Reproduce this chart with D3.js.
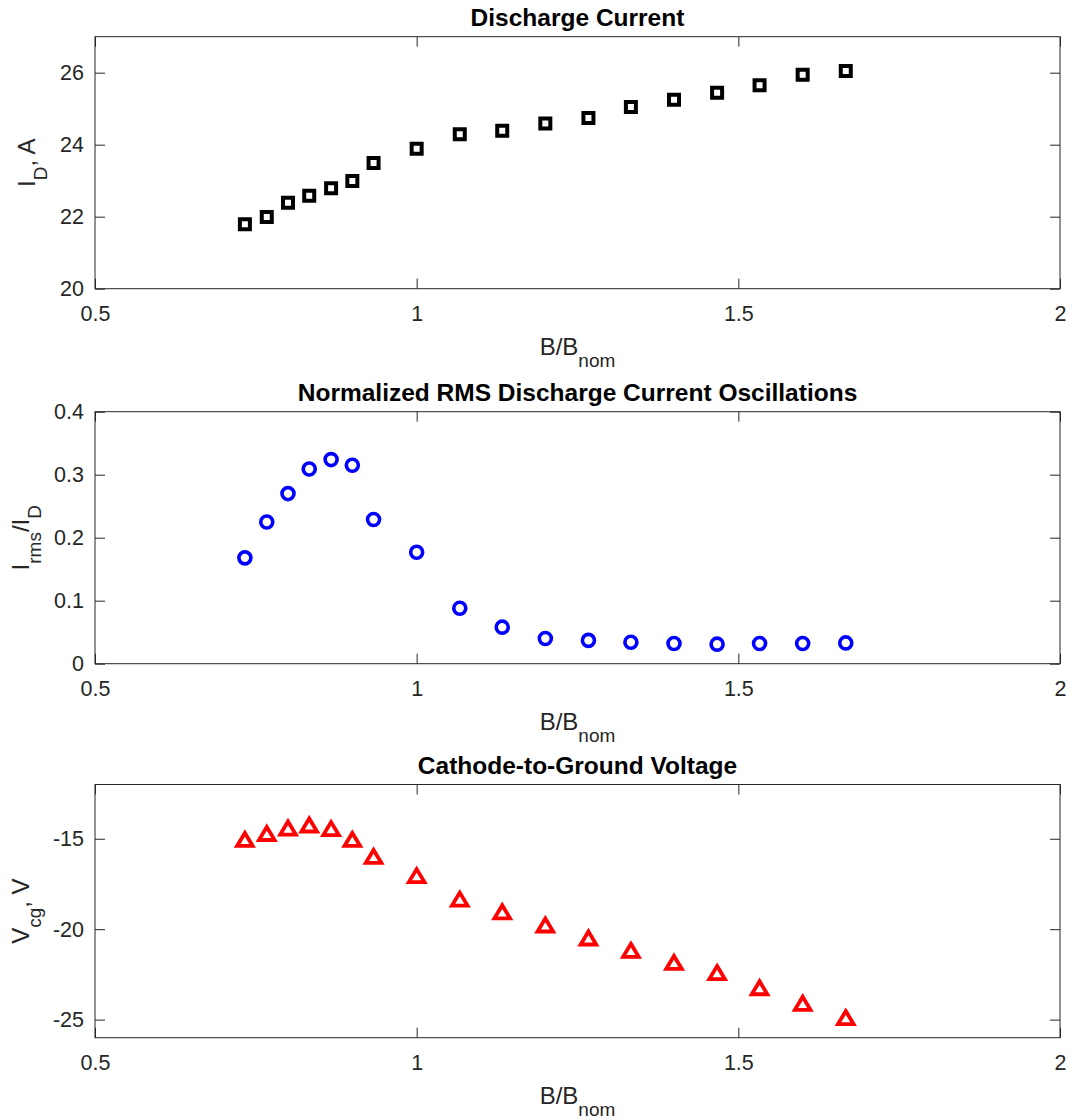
<!DOCTYPE html>
<html><head><meta charset="utf-8">
<script src="https://cdn.jsdelivr.net/npm/d3@7"></script>
<style>
body{margin:0;background:#fff}
svg{display:block}
text{font-family:"Liberation Sans",Arial,Helvetica,sans-serif}
</style>
</head><body><svg id="chart" width="1073" height="1120"></svg>
<script>
// ---- data ----
const bRatio = [0.733,0.767,0.8,0.833,0.867,0.9,0.933,1.0,1.067,1.133,1.2,1.267,1.333,1.4,1.467,1.533,1.6,1.667];
const dischargeCurrent = [21.79,21.99,22.39,22.58,22.79,22.99,23.49,23.89,24.29,24.39,24.59,24.74,25.05,25.25,25.44,25.65,25.94,26.05];
const rmsOscillation = [0.168,0.225,0.270,0.309,0.324,0.315,0.229,0.177,0.088,0.058,0.040,0.037,0.034,0.032,0.031,0.032,0.032,0.033];
const cathodeVoltage = [-15.0,-14.67,-14.37,-14.2,-14.4,-15.0,-15.94,-17.0,-18.3,-19.0,-19.73,-20.45,-21.13,-21.8,-22.36,-23.2,-24.06,-24.85];
const xTicks = [0.5,1,1.5,2];
const yTicksCurrent = [20,22,24,26];
const yTicksRms = [0,0.1,0.2,0.3,0.4];
const yTicksVoltage = [-25,-20,-15];
const titles = ["Discharge Current","Normalized RMS Discharge Current Oscillations","Cathode-to-Ground Voltage"];

// ---- layout ----
const svg = d3.select("#chart");
const left = 95, right = 1060;
const axisColor = "#262626";
const x = d3.scaleLinear().domain([0.5, 2]).range([left, right]);

const panels = [
  {title: titles[0], values: dischargeCurrent, domain: [20, 27], ticks: yTicksCurrent,
   top: 36.7, bottom: 288.7, color: "#000000", marker: "square", labelX: 35,
   label: [["I",0],["D",1],[", A",0]]},
  {title: titles[1], values: rmsOscillation, domain: [0, 0.4], ticks: yTicksRms,
   top: 411.7, bottom: 663.7, color: "#0000ff", marker: "circle", labelX: 28.5,
   label: [["I",0],["rms",1],["/I",0],["D",1]]},
  {title: titles[2], values: cathodeVoltage, domain: [-26, -12], ticks: yTicksVoltage,
   top: 784.5, bottom: 1037.7, color: "#ff0000", marker: "triangle", labelX: 28.5,
   label: [["V",0],["cg",1],[", V",0]]}
];

panels.forEach(p => {
  const y = d3.scaleLinear().domain(p.domain).range([p.bottom, p.top]);
  const g = svg.append("g");

  // axes with inward ticks
  const xb = g.append("g").attr("transform", `translate(0,${p.bottom})`)
    .call(d3.axisBottom(x).tickValues(xTicks).tickSizeInner(-10).tickSizeOuter(0)
      .tickPadding(17.5).tickFormat(d => String(d)));
  const xt = g.append("g").attr("transform", `translate(0,${p.top})`)
    .call(d3.axisTop(x).tickValues(xTicks).tickSizeInner(-10).tickSizeOuter(0).tickFormat(""));
  const yl = g.append("g").attr("transform", `translate(${left},0)`)
    .call(d3.axisLeft(y).tickValues(p.ticks).tickSizeInner(-10).tickSizeOuter(0)
      .tickPadding(11).tickFormat(d => String(d)));
  const yr = g.append("g").attr("transform", `translate(${right},0)`)
    .call(d3.axisRight(y).tickValues(p.ticks).tickSizeInner(-10).tickSizeOuter(0).tickFormat(""));
  [xb, xt, yl, yr].forEach(a => {
    a.select(".domain").remove();
    a.selectAll(".tick line").attr("stroke", axisColor).attr("stroke-width", 1);
    a.selectAll(".tick text").attr("fill", axisColor)
      .style("font-size", "21.5px").style("font-family", '"Liberation Sans",Arial,sans-serif');
  });

  // frame
  g.append("rect").attr("x", left).attr("y", p.top)
    .attr("width", right - left).attr("height", p.bottom - p.top)
    .attr("fill", "none").attr("stroke", axisColor).attr("stroke-width", 1);

  // title
  g.append("text").attr("x", (left + right) / 2).attr("y", p.top - 10.5)
    .attr("text-anchor", "middle").attr("font-weight", "bold")
    .attr("font-size", 24.5).attr("fill", "#000").text(p.title);

  // x label
  const xlab = g.append("text").attr("x", (left + right) / 2).attr("y", p.bottom + 66.5)
    .attr("text-anchor", "middle").attr("fill", axisColor).attr("font-size", 24);
  xlab.append("tspan").text("B/B");
  xlab.append("tspan").attr("font-size", 19).attr("dy", 12).text("nom");

  // y label
  const ylab = g.append("text")
    .attr("transform", `translate(${p.labelX},${(p.top + p.bottom) / 2}) rotate(-90)`)
    .attr("text-anchor", "middle").attr("fill", axisColor).attr("font-size", 24);
  let state = 0;
  p.label.forEach(([t, sub]) => {
    const ts = ylab.append("tspan").text(t);
    if (sub) ts.attr("font-size", 19);
    if (sub !== state) ts.attr("dy", sub ? 12 : -12);
    state = sub;
  });

  // markers
  const pts = bRatio.map((b, i) => ({b, v: p.values[i]}));
  const mg = g.append("g");
  if (p.marker === "square") {
    mg.selectAll("path").data(pts).join("path")
      .attr("d", d3.symbol(d3.symbolSquare, 10 * 10)())
      .attr("transform", d => `translate(${x(d.b)},${y(d.v)})`)
      .attr("fill", "none").attr("stroke", p.color).attr("stroke-width", 4)
      .attr("stroke-linejoin", "miter");
  } else if (p.marker === "circle") {
    mg.selectAll("circle").data(pts).join("circle")
      .attr("cx", d => x(d.b)).attr("cy", d => y(d.v)).attr("r", 6)
      .attr("fill", "none").attr("stroke", p.color).attr("stroke-width", 3.6);
  } else {
    const tri = d3.path();
    tri.moveTo(0, -5.8); tri.lineTo(7.8, 7.2); tri.lineTo(-7.8, 7.2); tri.closePath();
    mg.selectAll("path").data(pts).join("path")
      .attr("d", tri.toString())
      .attr("transform", d => `translate(${x(d.b)},${y(d.v)})`)
      .attr("fill", "none").attr("stroke", p.color).attr("stroke-width", 3.8)
      .attr("stroke-linejoin", "miter");
  }
});
</script>
</body></html>
